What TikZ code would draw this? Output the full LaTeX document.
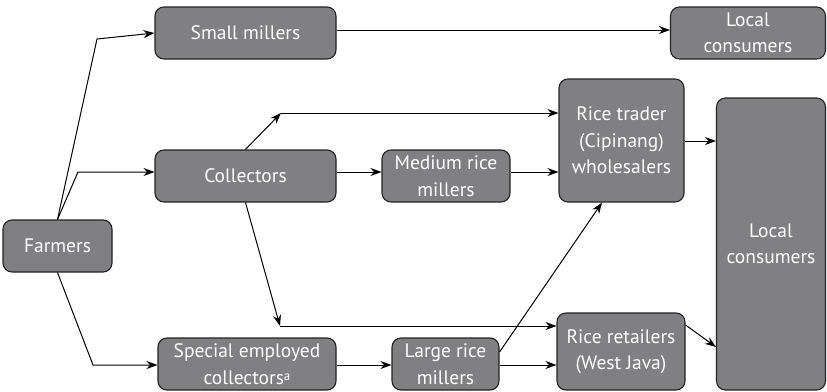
\documentclass[tikz,border=0pt]{standalone}
\usepackage{fontspec}
\setmainfont{PT Sans}
\usetikzlibrary{arrows.meta}
\definecolor{boxgray}{RGB}{128,128,130}
\definecolor{edgegray}{RGB}{35,35,35}
\begin{document}
\begin{tikzpicture}[x=1pt,y=-1pt,
  box/.style={draw=edgegray,line width=1.1pt,fill=boxgray,rounded corners=9pt,
    text=white,align=center,inner sep=0pt,font=\fontsize{19.5}{26.5}\selectfont},
  arr/.style={draw=black,line width=1pt,-{Stealth[length=11pt,width=8pt]}}]
\useasboundingbox (0,0) rectangle (827,391);
\node[box,minimum width=109pt,minimum height=52pt] (farm) at (57.5,246) {Farmers};
\node[box,minimum width=181pt,minimum height=52pt] (small) at (245.5,33) {Small millers};
\node[box,minimum width=155pt,minimum height=52pt] (lc1) at (748,33) {Local\\consumers};
\node[box,minimum width=181pt,minimum height=52pt] (coll) at (245.5,176) {Collectors};
\node[box,minimum width=128pt,minimum height=52pt] (med) at (446,176) {Medium rice\\millers};
\node[box,minimum width=125pt,minimum height=123pt] (trader) at (621.5,140.5) {Rice trader\\(Cipinang)\\wholesalers};
\node[box,minimum width=109pt,minimum height=292pt] (lc2) at (771,244) {Local\\consumers};
\node[box,minimum width=178pt,minimum height=52pt] (spec) at (247,364) {Special employed\\collectors{\fontsize{13}{13}\selectfont\raisebox{0.25em}{a}}};
\node[box,minimum width=107pt,minimum height=52pt] (large) at (445.5,364) {Large rice\\millers};
\node[box,minimum width=128pt,minimum height=77pt] (retail) at (621,351.5) {Rice retailers\\(West Java)};
\coordinate (b1) at (97,39);
\coordinate (b2) at (78,172);
\coordinate (b3) at (93,365);
\coordinate (c1) at (281,113);
\coordinate (c2) at (280,326);
\path[arr] (farm.north) -- (b1) -- (small.west |- 0,33);
\path[arr] (farm.north) -- (b2) -- (coll.west |- 0,172);
\path[arr] (farm.south) -- (b3) -- (spec.west |- 0,365);
\path[arr] (small.east |- 0,30) -- (lc1.west |- 0,30);
\path[arr] (coll.north) -- (c1);
\path[arr] (c1) -- (trader.west |- c1);
\path[arr] (coll.east |- 0,172) -- (med.west |- 0,172);
\path[arr] (med.east |- 0,172) -- (trader.west |- 0,172);
\path[arr] (coll.south) -- (c2);
\path[arr] (c2) -- (retail.west |- c2);
\path[arr] (spec.east |- 0,365) -- (large.west |- 0,365);
\path[arr] (large.east |- 0,365) -- (retail.west |- 0,365);
\path[arr] (large.east |- 0,352) -- (trader.south -| 602,0);
\path[arr] (trader.east |- 0,141) -- (lc2.west |- 0,141);
\path[arr] (retail.east |- 0,325) -- (lc2.west |- 0,347);
\end{tikzpicture}
\end{document}
